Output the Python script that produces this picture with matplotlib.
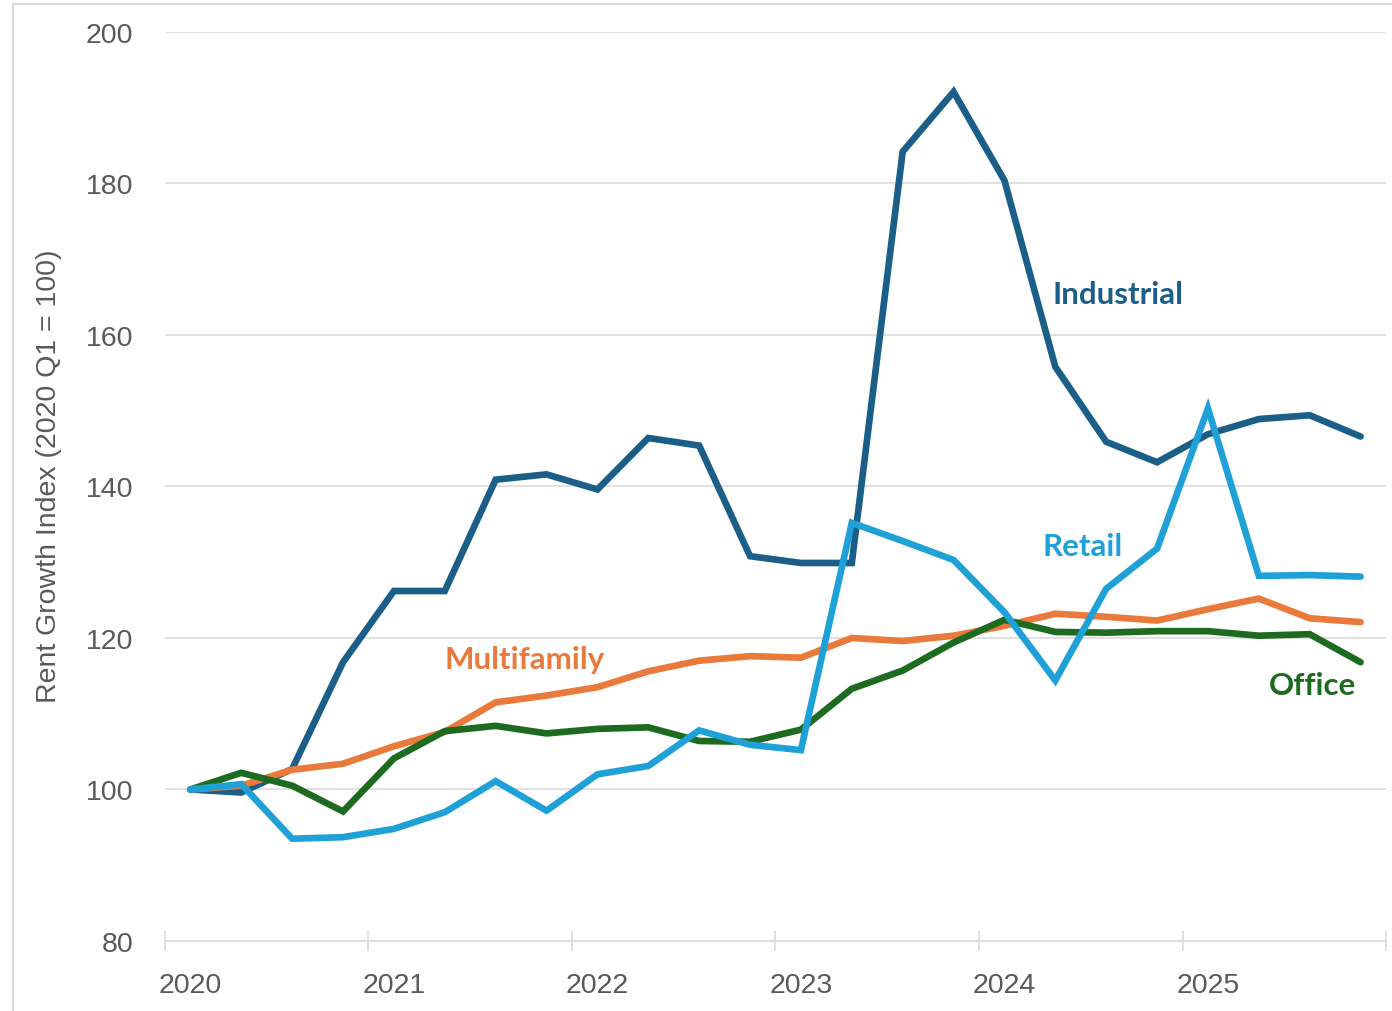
import numpy as np
import matplotlib.pyplot as plt
from matplotlib.patches import Rectangle

# Quarterly rent growth index, 2020 Q1 through 2025 Q4 (2020 Q1 = 100)
years = ["2020", "2021", "2022", "2023", "2024", "2025"]
industrial = [100.0, 99.6, 102.7, 116.8, 126.2, 126.2, 140.9, 141.6, 139.6, 146.4, 145.4, 130.8,
              129.9, 129.9, 184.2, 192.1, 180.4, 155.8, 145.9, 143.2, 146.9, 148.9, 149.4, 146.6]
retail = [100.0, 100.7, 93.5, 93.7, 94.8, 97.0, 101.1, 97.2, 102.0, 103.1, 107.8, 105.9,
          105.2, 135.2, 132.8, 130.3, 123.4, 114.4, 126.5, 131.8, 150.3, 128.2, 128.3, 128.1]
multifamily = [100.0, 100.5, 102.6, 103.4, 105.7, 107.6, 111.5, 112.4, 113.5, 115.6, 117.0, 117.6,
               117.4, 120.0, 119.6, 120.3, 121.6, 123.2, 122.8, 122.3, 123.8, 125.2, 122.6, 122.1]
office = [100.0, 102.2, 100.5, 97.1, 104.1, 107.7, 108.4, 107.4, 108.0, 108.2, 106.4, 106.3,
          107.9, 113.3, 115.7, 119.4, 122.4, 120.8, 120.7, 120.9, 120.9, 120.3, 120.5, 116.8]

series = [
    ("Industrial", industrial, "#1b5f88", (16.95, 165.4)),
    ("Multifamily", multifamily, "#e97a3b", (5.0, 117.2)),
    ("Office", office, "#1c6b20", (21.2, 113.8)),
    ("Retail", retail, "#1fa1d8", (16.75, 132.1)),
]

plt.rcParams["font.family"] = ["Liberation Sans", "DejaVu Sans"]

fig = plt.figure(figsize=(13.92, 10.12), dpi=100)
ax = fig.add_axes([0.1185, 0.0692, 0.8772, 0.8982])

# thin grey frame around the chart area
fig.patches.append(Rectangle((13 / 1392, -0.05), 1.1, 1.05 - 5 / 1012, transform=fig.transFigure,
                             fill=False, edgecolor="#d9d9d9", linewidth=1.5, zorder=0))

x = np.arange(len(industrial))
for name, values, color, (lx, ly) in series:
    ax.plot(x, values, color=color, linewidth=4.8, solid_joinstyle="miter",
            solid_capstyle="round", zorder=3)
    ax.text(lx, ly, name, color=color, fontsize=22.5, fontweight="bold",
            family=["Lato", "DejaVu Sans"], ha="left", va="center", zorder=4)

ax.set_xlim(-0.5, len(industrial) - 0.5)
ax.set_ylim(80, 200)
ax.set_yticks(range(80, 201, 20))
ax.set_xticks(np.arange(0, len(industrial), 4))
ax.set_xticklabels(years)
ax.set_xticks(np.arange(-0.5, len(industrial), 4), minor=True)

ax.grid(axis="y", color="#d9d9d9", linewidth=1.1, zorder=0)
for side in ["top", "right", "left"]:
    ax.spines[side].set_visible(False)
ax.spines["bottom"].set_color("#d9d9d9")
ax.spines["bottom"].set_linewidth(1.1)

ax.tick_params(axis="x", which="major", length=0, pad=22, labelsize=20.5, labelcolor="#595959")
ax.tick_params(axis="x", which="minor", direction="inout", length=14, width=1.1, color="#d9d9d9")
ax.tick_params(axis="y", length=0, pad=23, labelsize=20.5, labelcolor="#595959")

ax.set_ylabel("Rent Growth Index (2020 Q1 = 100)", fontsize=20.5, color="#595959")
ax.yaxis.set_label_coords(-0.084, 0.512)

fig.savefig("out.png", dpi=100)
